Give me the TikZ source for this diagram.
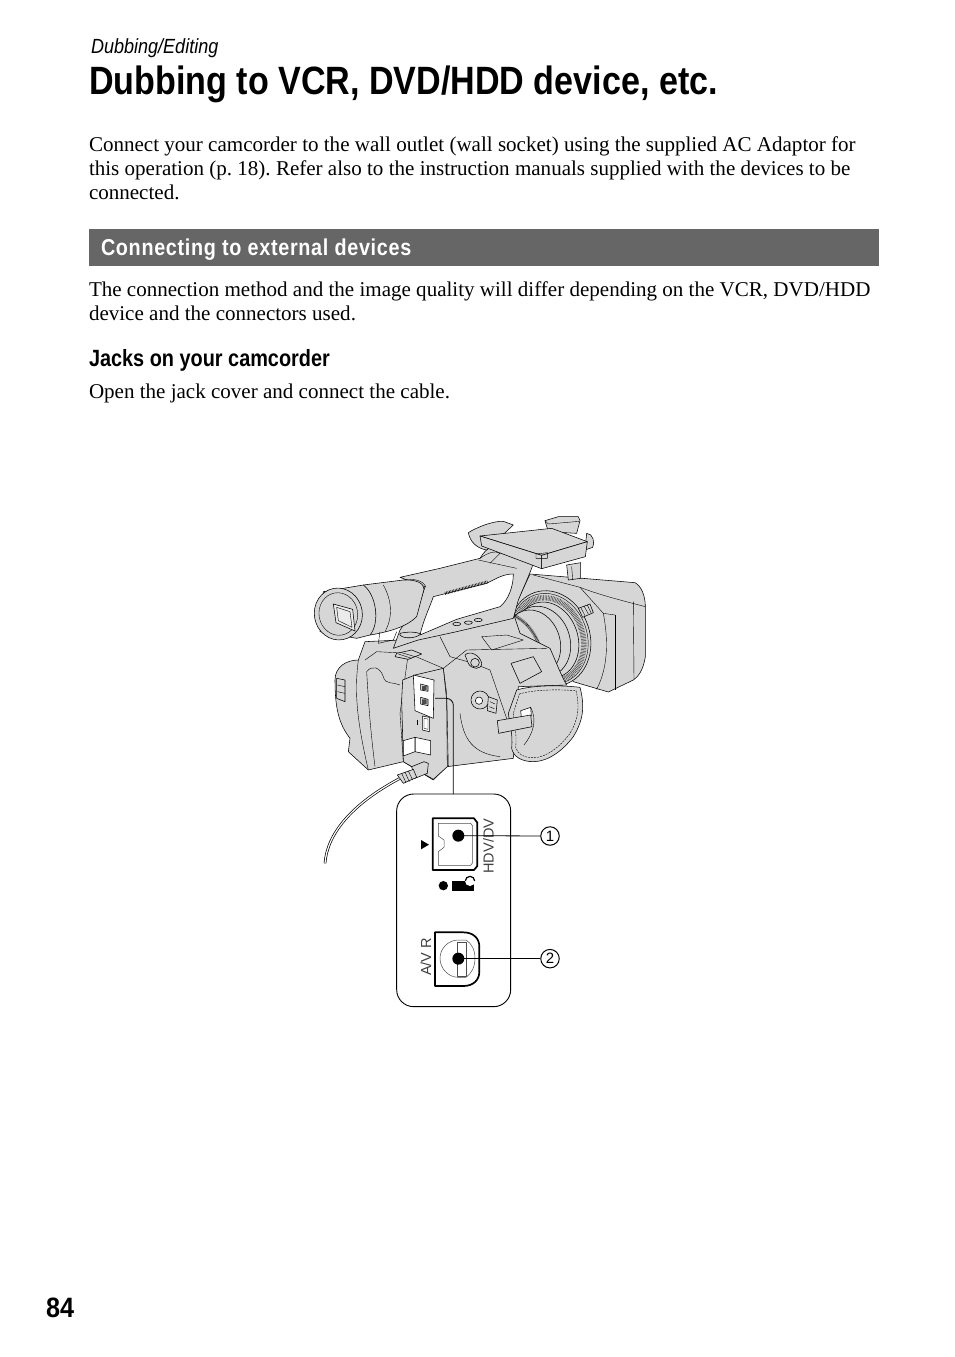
\documentclass[tikz,border=0pt]{standalone}
\usepackage{fontspec}
\setmainfont{Liberation Serif}
\newfontfamily\narrowbold[FakeStretch=0.863]{Liberation Sans Bold}
\newfontfamily\jacksfont[FakeStretch=0.846]{Liberation Sans Bold}
\newfontfamily\pgfontx[FakeStretch=0.9]{Liberation Sans Bold}
\newfontfamily\bandfont[FakeStretch=0.86,LetterSpace=3]{Liberation Sans Bold}
\newfontfamily\headit[FakeStretch=0.88]{Liberation Sans Italic}
\newfontfamily\lightsans{Liberation Sans}
\definecolor{camgray}{gray}{0.84}
\definecolor{bandgray}{HTML}{666666}
\tikzset{
  txt/.style={anchor=base west,inner sep=0pt,outer sep=0pt},
  cam/.style={draw=black,line width=0.55pt,fill=camgray,line join=round},
  camw/.style={draw=black,line width=0.55pt,fill=white,line join=round},
  det/.style={draw=black,line width=0.4pt,line join=round},
  thick1/.style={draw=black,line width=1.7pt,line join=round},
  thin1/.style={draw=black!70,line width=0.5pt,line join=round},
  leader/.style={draw=black,line width=0.8pt},
  callout/.style={circle,draw=black,line width=1pt,minimum size=18.5pt,inner sep=0pt,font=\lightsans\fontsize{15}{15}\selectfont},
  vlabel/.style={rotate=90,anchor=west,inner sep=0pt,font=\lightsans\fontsize{14.5}{14.5}\selectfont,text=black!75}
}
\frenchspacing
\begin{document}
\begin{tikzpicture}[x=1pt,y=-1pt]
\useasboundingbox (0,0) rectangle (954,1357);
\fill[white] (0,0) rectangle (954,1357);

% ---------- text ----------
\node[txt] (head) at (91,53) {\headit\fontsize{20.5}{20}\selectfont Dubbing/Editing};
\node[txt] (title) at (89,94) {\narrowbold\fontsize{39.5}{40}\selectfont Dubbing to VCR, DVD/HDD device, etc.};
\node[txt] (p1a) at (89,151) {\fontsize{21.04}{24}\selectfont Connect your camcorder to the wall outlet (wall socket) using the supplied AC Adaptor for};
\node[txt] (p1b) at (89,175) {\fontsize{21.04}{24}\selectfont this operation (p. 18). Refer also to the instruction manuals supplied with the devices to be};
\node[txt] (p1c) at (89,199) {\fontsize{21.04}{24}\selectfont connected.};
\fill[bandgray] (89,229) rectangle (879,266);
\node[txt,text=white] (band) at (101,255) {\bandfont\fontsize{23}{24}\selectfont Connecting to external devices};
\node[txt] (p2a) at (89,296) {\fontsize{21.04}{24}\selectfont The connection method and the image quality will differ depending on the VCR, DVD/HDD};
\node[txt] (p2b) at (89,320) {\fontsize{21.04}{24}\selectfont device and the connectors used.};
\node[txt] (jacks) at (89,366) {\jacksfont\fontsize{23.5}{24}\selectfont Jacks on your camcorder};
\node[txt] (p3) at (89,398) {\fontsize{21.04}{24}\selectfont Open the jack cover and connect the cable.};
\node[txt] (pg) at (46,1317) {\pgfontx\fontsize{28}{28}\selectfont 84};

% ---------- camcorder, in zoom units (3 = 1 px) ----------
\begin{scope}[shift={(300,500)},x=0.33333pt,y=-0.33333pt]
% hood
\path[cam] (690,222) -- (1005,248) .. controls (1025,258) and (1036,290) .. (1036,320)
  -- (1036,470) .. controls (1030,510) and (1015,530) .. (1000,540)
  -- (925,576) -- (820,545) -- (640,330) -- cycle;
\draw[det] (840,262) .. controls (900,285) and (960,300) .. (1036,320);
\draw[det] (945,345) -- (945,570);
\draw[det] (1000,305) -- (1002,538);
\draw[det] (840,262) -- (910,340) -- (945,345);
\draw[det] (910,340) .. controls (925,420) and (925,500) .. (890,568);
\draw[det] (700,225) -- (840,262);
% lens rings
\path[cam,rotate around={18:(750,415)}] (750,415) ellipse [x radius=120,y radius=145];
\draw[det,rotate around={18:(748,416)}] (748,416) ellipse [x radius=114,y radius=138];
\draw[line width=5.5pt,black!75,dash pattern=on 0.5pt off 1pt,rotate around={18:(746,418)}] (746,418) ellipse [x radius=103,y radius=127];
\path[cam,rotate around={18:(742,420)}] (742,420) ellipse [x radius=92,y radius=116];
\path[cam,rotate around={18:(722,425)}] (722,425) ellipse [x radius=88,y radius=108];
\path[cam,rotate around={18:(700,428)}] (700,428) ellipse [x radius=80,y radius=100];
\draw[line width=3pt,dash pattern=on 0.4pt off 0.8pt] (640,345) .. controls (690,370) and (722,420) .. (728,485);
% lens knob on hood
\path[cam] (835,325) -- (870,312) -- (880,338) -- (848,352) -- cycle;
\draw[det] (842,322) -- (855,347) (852,318) -- (865,342) (862,315) -- (873,338);
% body
\path[cam] (195,425) -- (300,420) -- (420,395) -- (640,340) -- (660,400) -- (750,445)
  .. controls (770,490) and (785,530) .. (800,555) -- (655,560) -- (640,775) -- (440,800)
  -- (400,840) -- (310,785) -- (205,810) -- (145,755) -- (150,715)
  .. controls (115,670) and (105,620) .. (105,540) .. controls (105,500) and (140,480) .. (175,480) -- cycle;
% grip and side seams
\draw[det] (175,480) .. controls (165,560) and (165,640) .. (205,810);
\draw[det] (230,455) -- (325,460) -- (430,505);
\draw[det] (230,455) -- (195,480);
\draw[det] (325,460) -- (300,640) -- (310,785);
\draw[det] (430,505) -- (440,580) -- (445,800);
\draw[det] (430,505) -- (500,450) -- (740,445);
\draw[det] (420,410) -- (450,470) -- (520,490) -- (570,510) -- (625,670);
\draw[det] (200,515) .. controls (215,495) and (240,500) .. (250,530) .. controls (255,555) and (280,545) .. (300,555);
\draw[det] (200,515) .. controls (205,600) and (210,680) .. (225,800);
\draw[det] (480,640) .. controls (490,720) and (520,760) .. (600,770);
\draw[det] (545,410) -- (620,405) -- (670,420) -- (575,450) -- cycle;
% back dial on grip
\path[cam] (110,535) -- (135,540) -- (135,605) -- (110,595) -- cycle;
\draw[det] (112,555) -- (135,560) (112,575) -- (135,580);
% body rectangle button
\path[cam] (633,490) -- (700,470) -- (725,515) -- (660,550) -- cycle;
% dials
\path[cam] (495,465) .. controls (510,450) and (540,465) .. (545,490) .. controls (545,510) and (515,510) .. (505,490) -- cycle;
\path[cam] (525,488) circle [radius=13];
\path[cam] (540,600) circle [radius=27];
\path[camw] (537,602) circle [radius=11];
\path[cam] (565,590) -- (592,600) -- (588,640) -- (562,632) -- cycle;
\draw[det] (570,605) -- (585,612) (568,620) -- (583,626);
% strap
\path[cam] (650,570) .. controls (700,555) and (780,555) .. (840,562)
  .. controls (855,620) and (850,660) .. (820,710)
  .. controls (790,750) and (745,785) .. (700,785)
  .. controls (665,785) and (640,770) .. (635,745)
  .. controls (640,700) and (625,650) .. (625,640) -- cycle;
\draw[det,dash pattern=on 2pt off 1pt] (658,582) .. controls (705,568) and (775,568) .. (828,572)
  .. controls (840,620) and (835,660) .. (808,703)
  .. controls (780,740) and (740,772) .. (702,773)
  .. controls (670,773) and (652,762) .. (647,742)
  .. controls (652,700) and (640,655) .. (640,640) -- cycle;
\path[camw] (662,632) -- (692,622) -- (694,648) -- (664,652) -- cycle;
\path[cam] (592,662) -- (692,645) -- (696,680) -- (596,700) -- cycle;
\draw[det] (692,622) .. controls (712,660) and (700,700) .. (672,735);
% panel with jacks
\path[cam] (308,540) -- (345,525) -- (430,505) -- (440,600) -- (442,800) -- (400,838) -- (310,785) -- (305,600) -- cycle;
\path[camw] (340,525) -- (402,540) -- (400,655) -- (345,632) -- cycle;
\path[cam] (362,552) -- (384,558) -- (384,574) -- (362,570) -- cycle;
\path[cam] (362,592) -- (384,598) -- (384,617) -- (362,612) -- cycle;
\fill[black!70] (366,558) rectangle (380,570) (366,598) rectangle (380,612);
\path[camw] (367,648) -- (388,652) -- (388,695) -- (367,690) -- cycle;
\draw[det] (372,655) -- (384,657) -- (384,688) -- (372,685) -- cycle;
\path[camw] (345,712) -- (392,722) -- (392,765) -- (345,755) -- cycle;
\path[camw] (310,722) -- (345,712) -- (345,755) -- (310,768) -- cycle;
\draw[det] (352,660) -- (352,675);
% plug
\path[cam] (335,800) -- (372,785) -- (385,790) -- (382,820) -- (345,835) -- cycle;
\path[cam] (292,825) -- (340,808) -- (350,832) -- (310,850) -- cycle;
\draw[det] (305,820) -- (318,848) (315,816) -- (328,845) (325,813) -- (338,840);
% handle
\path[cam] (300,232) -- (420,205) -- (540,175) .. controls (555,150) and (570,138) .. (595,135)
  -- (710,155) .. controls (700,200) and (680,240) .. (655,300) -- (640,355) -- (470,395)
  -- (355,420) -- (280,445) -- (300,390) -- (360,305) -- (375,260) -- cycle;
\path[camw] (400,290) -- (560,250) .. controls (590,235) and (610,222) .. (640,222)
  .. controls (640,260) and (625,300) .. (600,320) -- (470,358) -- (360,405) .. controls (370,360) and (390,320) .. (400,290) -- cycle;
\draw[line width=3pt,dash pattern=on 0.5pt off 1pt] (435,280) -- (565,245);
\draw[det] (310,240) .. controls (340,235) and (370,240) .. (378,262);
\draw[det] (535,180) -- (650,205);
\draw[det] (540,175) .. controls (560,160) and (585,150) .. (600,160) -- (570,190);
\path[cam] (600,155) .. controls (605,135) and (650,130) .. (655,148) .. controls (650,165) and (610,170) .. (600,155) -- cycle;
\path[cam] (615,148) circle [radius=10];
\draw[det] (640,150) .. controls (645,155) and (650,160) .. (655,150);
\path[cam] (470,372) ellipse [x radius=12,y radius=5];
\path[cam] (505,368) ellipse [x radius=12,y radius=5];
\path[cam] (535,360) ellipse [x radius=12,y radius=5];
\path[cam] (300,400) .. controls (320,395) and (350,395) .. (362,402) .. controls (350,415) and (310,418) .. (300,405) -- cycle;
\path[cam] (290,460) -- (335,450) -- (365,462) -- (325,478) -- (285,470) -- cycle;
\draw[det] (295,462) -- (335,475) (305,458) -- (345,470);
% eyepiece tube
\path[cam] (190,255) -- (310,240) .. controls (350,238) and (372,250) .. (372,268)
  -- (350,350) .. controls (320,380) and (270,395) .. (210,405) -- cycle;
\draw[det] (250,255) .. controls (275,300) and (280,350) .. (255,395);
\draw[det] (240,395) -- (235,430) -- (280,420) -- (290,395);
% eyecup
\path[cam] (70,275) -- (190,255) .. controls (230,285) and (240,370) .. (210,405) -- (170,415) -- (60,395) -- cycle;
\path[cam,rotate around={10:(115,342)}] (115,342) ellipse [x radius=72,y radius=78];
\draw[det,rotate around={10:(115,342)}] (115,342) ellipse [x radius=58,y radius=64];
\path[draw=black,line width=0.55pt,fill=black!8] (100,312) -- (158,328) -- (165,393) -- (108,368) -- cycle;
\draw[det] (110,322) -- (150,335) -- (156,382) -- (115,362) -- cycle;
% top unit
\path[cam] (505,98) .. controls (530,82) and (580,62) .. (610,64) -- (640,75) -- (560,150) .. controls (530,145) and (510,125) .. (505,98) -- cycle;
\path[cam] (860,100) .. controls (880,100) and (885,130) .. (878,142) -- (855,150) -- cycle;
\path[cam] (800,195) -- (842,188) -- (842,235) -- (805,240) -- cycle;
\draw[det] (815,200) -- (818,238);
\path[cam] (735,62) -- (775,50) -- (835,50) -- (840,62) -- (830,100) -- (745,95) -- cycle;
\draw[det] (735,62) -- (745,72) -- (838,64);
\path[cam] (540,108) -- (755,85) -- (862,125) -- (725,166) -- cycle;
\path[cam] (540,108) -- (725,166) -- (725,206) -- (545,138) -- cycle;
\path[cam] (725,166) -- (862,125) -- (856,170) -- (725,206) -- cycle;
\draw[det] (708,162) -- (742,158) -- (742,175) -- (708,175) -- cycle;
% coordinates for connector
\coordinate (tap) at (405,595);
\coordinate (cabA) at (298,836);
\end{scope}

% ---------- inset, in zoom units ----------
\begin{scope}[shift={(320,770)},x=0.33333pt,y=-0.33333pt]
\coordinate (cabB) at (15,280);
\coordinate (boxtop) at (400,72);
\draw[leader,fill=white,line width=0.9pt,rounded corners=17pt] (230,72) rectangle (572,710);
% jack 1
\draw[thick1] (338,145) -- (462,145) -- (472,158) -- (472,288) -- (462,300) -- (338,300) -- cycle;
\draw[thin1] (355,160) -- (452,160) -- (458,168) -- (458,278) -- (452,286) -- (355,286)
  -- (355,245) -- (372,232) -- (372,210) -- (355,198) -- cycle;
\fill[black] (415,197) circle [radius=18];
\fill[black] (303,210) -- (327,224) -- (303,238) -- cycle;
\fill[black] (370,347) circle [radius=14];
\fill[black] (395,333) rectangle (462,362);
\fill[white] (450,333) circle [radius=15];
\draw[black,line width=1.2pt] (436,333) arc[start angle=180,end angle=360,radius=14];
% jack 2
\draw[thick1] (345,487) -- (430,487) .. controls (460,487) and (478,505) .. (478,530)
  -- (478,605) .. controls (478,630) and (460,648) .. (430,648) -- (345,648) -- cycle;
\draw[thin1] (415,510) .. controls (385,510) and (360,535) .. (360,565)
  .. controls (360,595) and (385,622) .. (415,622) -- (438,622) .. controls (455,610) and (465,590) .. (465,565)
  .. controls (465,540) and (455,520) .. (438,510) -- cycle;
\draw[thin1] (413,518) rectangle (440,618);
\fill[black] (415,566) circle [radius=18];
\node[callout] (c1) at (690,198) {1};
\node[callout] (c2) at (690,566) {2};
\coordinate (d1) at (415,197);
\coordinate (d2) at (415,566);
\node[vlabel] (hdv) at (505,311) {HDV/DV};
\node[vlabel] (avr) at (318,618) {A/V R};
\end{scope}
\draw[leader] (d1) -- (c1);
\draw[leader] (d2) -- (c2);
\draw[leader,rounded corners=7pt] (boxtop) |- (tap);
\draw[line width=0.7pt,black,double=white,double distance=1.2pt] (cabA) .. controls (350,805) and (327,835) .. (cabB);
\end{tikzpicture}
\end{document}
